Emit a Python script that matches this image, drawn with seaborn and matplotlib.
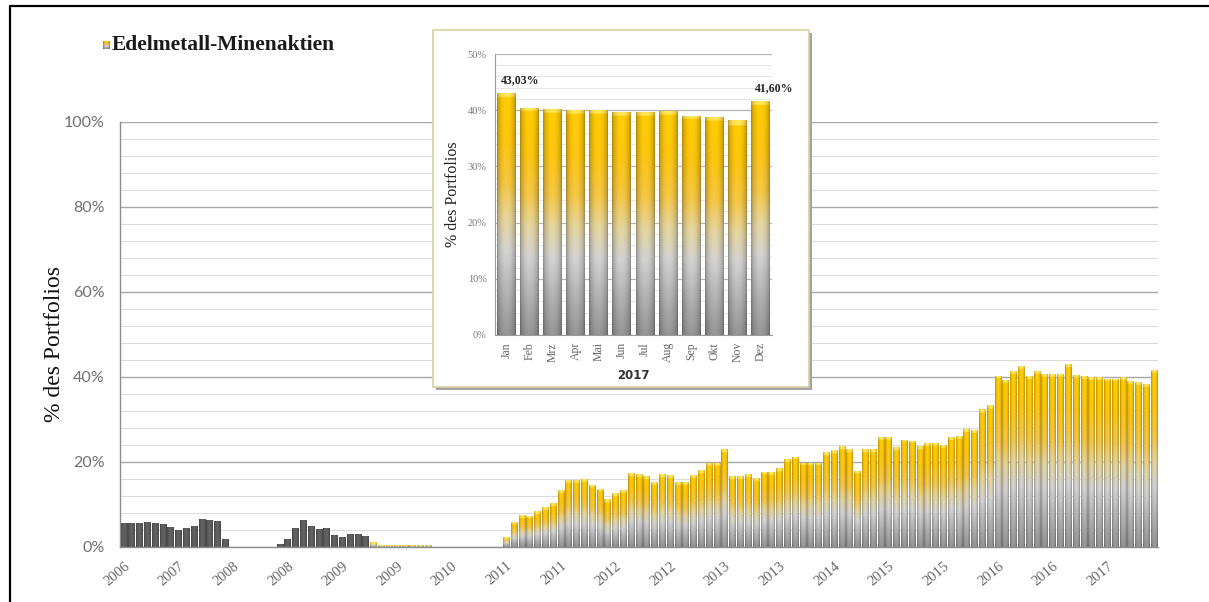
import numpy as np
import pandas as pd
import matplotlib
matplotlib.use("Agg")
import matplotlib.pyplot as plt
import seaborn as sns
from matplotlib.colors import LinearSegmentedColormap, to_rgb
from matplotlib.patches import Rectangle
from matplotlib.lines import Line2D

sns.set_style("white")
plt.rcParams["font.family"] = ["Liberation Serif", "DejaVu Serif"]

# ---------------------------------------------------------------- data
start_month = "2006-12"
first_gold_month = "2009-08"          # earlier months are drawn in dark grey

share_history = [
    5.5,                                                              # 2006-12
    5.5, 5.5, 5.8, 5.6, 5.3, 4.7, 3.9, 4.5, 4.8, 6.6, 6.3, 6.0,       # 2007
    1.8, 0.0, 0.0, 0.0, 0.0, 0.0, 0.0, 0.7, 1.7, 4.5, 6.4, 4.9,       # 2008
    4.2, 4.5, 2.8, 2.2, 3.1, 2.9, 2.6, 1.1, 0.4, 0.4, 0.4, 0.4,       # 2009
    0.4, 0.4, 0.4, 0.0, 0.0, 0.0, 0.0, 0.0, 0.0, 0.0, 0.0, 0.0,       # 2010
    2.4, 5.9, 7.5, 7.3, 8.3, 9.4, 10.2, 13.4, 15.6, 15.6, 15.9, 14.6, # 2011
    13.7, 11.2, 12.6, 13.4, 17.3, 17.1, 16.7, 15.3, 17.1, 16.9, 15.3, 15.3,  # 2012
    16.9, 18.1, 19.7, 19.7, 23.0, 16.7, 16.7, 17.1, 16.1, 17.7, 17.5, 18.5,  # 2013
    20.6, 21.2, 19.8, 19.8, 19.8, 22.2, 22.8, 23.6, 23.0, 17.9, 23.0, 23.0,  # 2014
    25.8, 25.8, 23.4, 25.2, 25.0, 23.6, 24.4, 24.4, 24.0, 25.9, 26.1, 27.6,  # 2015
    27.5, 32.4, 33.4, 40.3, 39.3, 41.3, 42.6, 40.1, 41.3, 40.7, 40.7, 40.7,  # 2016
]

months_2017 = ["Jan", "Feb", "Mrz", "Apr", "Mai", "Jun",
               "Jul", "Aug", "Sep", "Okt", "Nov", "Dez"]
share_2017 = [43.03, 40.4, 40.15, 39.95, 39.95, 39.6,
              39.6, 39.85, 39.05, 38.75, 38.25, 41.60]

share_pct = share_history + share_2017
months = pd.period_range(start_month, periods=len(share_pct), freq="M")
df_main = pd.DataFrame({"month": months.strftime("%Y-%m"), "share": share_pct})
df_2017 = pd.DataFrame({"month": months_2017, "share": share_2017})

series_name = "Edelmetall-Minenaktien"
y_title = "% des Portfolios"

# ---------------------------------------------------------------- helpers
W, H = 1209, 602
fig = plt.figure(figsize=(W / 100, H / 100), dpi=100)
fig.patch.set_facecolor("white")


def axes_px(left, top, right, bottom, **kw):
    return fig.add_axes([left / W, 1 - bottom / H, (right - left) / W, (bottom - top) / H], **kw)


gold_map = LinearSegmentedColormap.from_list(
    "gold_fade",
    [(0.00, "#8e8e8e"), (0.16, "#a8a8a8"), (0.34, "#c8c8c8"),
     (0.48, "#dacb96"), (0.62, "#e9bd42"), (0.80, "#f1bc10"), (1.00, "#f5c300")],
)
cap_rgb = np.array(to_rgb("#ffdc50"))
dark_rgb = np.array(to_rgb("#5c5c5c"))


def cylinder_shade(cols):
    u = np.linspace(0, 1, cols)
    return 0.74 + 0.32 * np.sin(np.pi * u) ** 0.6


def fill_bars(ax, dark_flags, cap_height):
    shade = cylinder_shade(18)
    for patch, dark in zip(ax.patches, dark_flags):
        h = patch.get_height()
        if h <= 0:
            continue
        x0 = patch.get_x()
        w = patch.get_width()
        rows = 120
        if dark:
            col = np.tile(dark_rgb, (rows, 1))
        else:
            col = gold_map(np.linspace(0, 1, rows))[:, :3]
            ncap = int(round(rows * min(cap_height / h, 0.5)))
            if ncap > 0:
                col[-ncap:] = cap_rgb
        img = np.clip(col[:, None, :] * shade[None, :, None], 0, 1)
        im = ax.imshow(img, extent=[x0, x0 + w, 0, h], origin="lower",
                       aspect="auto", interpolation="bilinear", zorder=patch.get_zorder())
        im.set_clip_path(patch)
        patch.set_facecolor("none")
        patch.set_edgecolor("none")


# ---------------------------------------------------------------- main chart
ax = axes_px(120, 122, 1158, 546.7)
sns.barplot(data=df_main, x="month", y="share", color="#f0c000",
            width=0.86, saturation=1, ax=ax)
dark_flags = [m < pd.Period(first_gold_month, "M") for m in months]
fill_bars(ax, dark_flags, cap_height=0.7)

n = len(share_pct)
ax.set_xlim(-0.5, n - 0.5)
ax.set_ylim(0, 100)
ax.set_yticks(np.arange(0, 101, 20))
ax.set_yticks(np.arange(0, 101, 4), minor=True)
ax.set_yticklabels([f"{v}%" for v in range(0, 101, 20)],
                   fontfamily="Lato", fontsize=11.5, color="#707070")
ax.grid(axis="y", which="major", color="#a8a8a8", lw=1.0)
ax.grid(axis="y", which="minor", color="#dcdcdc", lw=0.8)
ax.set_axisbelow(True)

label_pos = np.arange(0, n, 7)
ax.set_xticks(label_pos)
ax.set_xticklabels([str(months[i].year) for i in label_pos], rotation=40,
                   ha="right", va="top", rotation_mode="anchor",
                   fontsize=10.5, color="#666666")
ax.set_xticks(np.arange(-0.5, n, 1), minor=True)
ax.tick_params(axis="x", which="major", length=0, pad=9)
ax.tick_params(axis="x", which="minor", length=5, color="#8c8c8c", width=0.8)
ax.tick_params(axis="y", which="major", length=5, color="#8c8c8c", pad=6)
ax.tick_params(axis="y", which="minor", length=0)
ax.set_xlabel("")
ax.set_ylabel("")
for s in ["top", "right"]:
    ax.spines[s].set_visible(False)
for s in ["left", "bottom"]:
    ax.spines[s].set_color("#8c8c8c")
    ax.spines[s].set_linewidth(1.0)

fig.text(55 / W, 1 - 344 / H, y_title, rotation=90, ha="center", va="center",
         fontsize=17, color="#111111")

# legend entry
lg = axes_px(103, 41, 110, 49)
lg.imshow(np.clip(gold_map(np.linspace(0, 1, 20))[:, None, :3] * cylinder_shade(8)[None, :, None], 0, 1),
          origin="lower", aspect="auto", extent=[0, 1, 0, 1])
lg.axis("off")
fig.text(112 / W, 1 - 45 / H, series_name, ha="left", va="center",
         fontsize=15.5, fontweight="bold", color="#1a1a1a")

# outer frame
fig.add_artist(Line2D([10 / W, 1], [1 - 6 / H, 1 - 6 / H], color="black", lw=1.6))
fig.add_artist(Line2D([10 / W, 10 / W], [0, 1 - 6 / H], color="black", lw=1.6))

# ---------------------------------------------------------------- 2017 inset
fig.add_artist(Rectangle((436 / W, 1 - 390 / H), 376 / W, 357 / H,
                         transform=fig.transFigure, facecolor="#a3a3a3",
                         edgecolor="none", zorder=2))
fig.add_artist(Rectangle((433 / W, 1 - 387 / H), 376 / W, 357 / H,
                         transform=fig.transFigure, facecolor="white",
                         edgecolor="#d8d0a0", lw=1.2, zorder=2.1))

ins = axes_px(495, 54, 772, 335)
ins.set_zorder(5)
ins.patch.set_alpha(0)
sns.barplot(data=df_2017, x="month", y="share", color="#f0c000",
            width=0.82, saturation=1, ax=ins)
fill_bars(ins, [False] * len(share_2017), cap_height=0.8)
ins.set_xlim(-0.5, len(share_2017) - 0.5)
ins.set_ylim(0, 50)
ins.set_yticks(np.arange(0, 51, 10))
ins.set_yticks(np.arange(0, 51, 2), minor=True)
ins.set_yticklabels([f"{v}%" for v in range(0, 51, 10)], fontsize=7.5, color="#777777")
ins.grid(axis="y", which="major", color="#b4b4b4", lw=0.9)
ins.grid(axis="y", which="minor", color="#e6e6e6", lw=0.7)
ins.set_axisbelow(True)
ins.set_xticks(range(len(share_2017)))
ins.set_xticklabels(months_2017, rotation=90, fontsize=8.5, color="#666666")
ins.set_xticks(np.arange(-0.5, len(share_2017), 1), minor=True)
ins.tick_params(axis="x", which="major", length=0, pad=5)
ins.tick_params(axis="x", which="minor", length=3, color="#999999")
ins.tick_params(axis="y", which="major", length=3, color="#999999", pad=3)
ins.tick_params(axis="y", which="minor", length=0)
for s in ["top", "right"]:
    ins.spines[s].set_visible(False)
for s in ["left", "bottom"]:
    ins.spines[s].set_color("#999999")
ins.set_ylabel(y_title, fontsize=11.5, color="#222222", labelpad=5)
ins.set_xlabel("2017", fontfamily="DejaVu Sans", fontsize=8.5,
               fontweight="bold", color="#333333", labelpad=5)

for idx in (0, len(share_2017) - 1):
    p = ins.patches[idx]
    v = share_2017[idx]
    ins.annotate(f"{v:.2f}".replace(".", ",") + "%",
                 xy=(p.get_x(), v), xytext=(3, 5), textcoords="offset points",
                 ha="left", va="bottom", fontsize=8.5, fontweight="bold",
                 color="#222222")

fig.savefig("out.png", dpi=100, facecolor="white")
